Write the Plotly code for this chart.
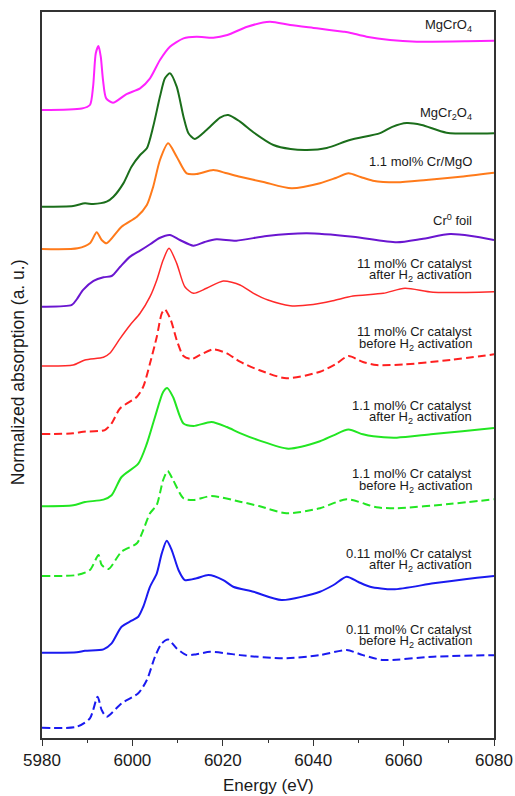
import plotly.graph_objects as go

# ---------------- data (normalized absorption) ----------------
E_MGCRO4 = [5980, 5988.8, 5990.6, 5991.3, 5991.9, 5992.5, 5993.0, 5993.5, 5994.2, 5995.7, 5998.7,
            6001.7, 6003.9, 6006.1, 6008.3, 6011.3, 6014.2, 6017.9, 6021.0, 6025.4, 6030.4, 6034.9,
            6040.8, 6046.7, 6048.1, 6051.8, 6057.0, 6062.9, 6074.0, 6080.0]
MU_MGCRO4 = [0, 0.02, 0.067, 0.311, 0.756, 0.853, 0.711, 0.4, 0.156, 0.097, 0.213,
             0.289, 0.423, 0.667, 0.844, 0.956, 0.977, 0.964, 1.0, 1.111, 1.177, 1.133,
             1.089, 1.044, 1.031, 0.977, 0.933, 0.911, 0.916, 0.924]

E_MGCR2O4 = [5980, 5986.9, 5989.5, 5991.3, 5994.3, 5995.8, 5998.0, 5999.8, 6001.7, 6003.2, 6004.6,
             6006.1, 6007.2, 6008.3, 6009.8, 6011.3, 6012.4, 6013.8, 6016.4, 6019.4, 6021.2, 6023.8,
             6027.0, 6031.2, 6035.0, 6038.6, 6043.0, 6048.1, 6054.8, 6057.5, 6060.7, 6064.0, 6069.5, 6080.0]
MU_MGCR2O4 = [0, 0.009, 0.045, 0.036, 0.067, 0.133, 0.311, 0.533, 0.689, 0.779, 1.068,
              1.468, 1.712, 1.779, 1.6, 1.2, 0.979, 0.903, 1.023, 1.189, 1.223, 1.135,
              0.983, 0.823, 0.769, 0.756, 0.783, 0.889, 0.981, 1.065, 1.115, 1.089, 0.987, 0.979]

E_CR_MGO = [5980, 5987.9, 5990.6, 5992.1, 5993.2, 5994.3, 5997.6, 6001.0, 6003.2, 6004.6, 6006.1,
            6007.9, 6009.8, 6012.0, 6014.2, 6017.9, 6020.9, 6023.8, 6029.0, 6035.2, 6041.5, 6045.0,
            6047.8, 6050.5, 6053.2, 6058.5, 6065.0, 6072.0, 6080.0]
MU_CR_MGO = [0, 0.009, 0.076, 0.223, 0.12, 0.076, 0.297, 0.431, 0.587, 0.831, 1.187,
             1.409, 1.231, 1.009, 1.0, 1.053, 1.009, 0.964, 0.893, 0.809, 0.876, 0.947,
             1.009, 0.96, 0.911, 0.889, 0.92, 0.96, 1.017]

E_CR_FOIL = [5980, 5986.6, 5987.7, 5989.1, 5991.4, 5993.6, 5995.4, 5997.3, 5999.5, 6001.7, 6004.0,
             6006.0, 6008.3, 6010.5, 6013.5, 6016.0, 6018.6, 6023.0, 6029.7, 6038.6, 6048.8, 6058.5,
             6064.0, 6070.3, 6075.0, 6080.0]
MU_CR_FOIL = [0, 0.023, 0.099, 0.223, 0.343, 0.392, 0.409, 0.533, 0.667, 0.747, 0.836,
              0.916, 0.956, 0.889, 0.813, 0.863, 0.899, 0.88, 0.943, 0.979, 0.933, 0.859,
              0.903, 0.969, 0.943, 0.889]

E_11_AFTER = [5980, 5986.9, 5989.5, 5993.6, 5995.0, 5997.3, 5999.5, 6001.7, 6003.9, 6005.4, 6006.8,
              6008.1, 6009.8, 6011.6, 6013.5, 6016.4, 6020.1, 6023.8, 6026.8, 6030.0, 6034.9, 6040.0,
              6044.4, 6048.8, 6055.5, 6060.3, 6066.5, 6080.0]
MU_11_AFTER = [0, 0.013, 0.08, 0.116, 0.169, 0.369, 0.547, 0.703, 0.924, 1.147, 1.413,
               1.569, 1.369, 1.057, 0.969, 1.036, 1.133, 1.08, 0.969, 0.88, 0.804, 0.82,
               0.871, 0.933, 0.969, 1.036, 0.983, 0.991]

E_11_BEFORE = [5980, 5986.9, 5989.1, 5993.9, 5995.4, 5997.3, 6001.0, 6002.4, 6003.9, 6005.4, 6006.5,
               6007.2, 6008.5, 6009.8, 6011.3, 6013.1, 6014.9, 6017.9, 6020.9, 6023.8, 6028.0, 6034.1,
               6041.5, 6045.0, 6047.8, 6051.0, 6054.0, 6060.0, 6070.3, 6080.0]
MU_11_BEFORE = [0, 0.009, 0.031, 0.053, 0.143, 0.343, 0.497, 0.631, 0.943, 1.297, 1.609,
                1.661, 1.52, 1.253, 1.04, 1.0, 1.053, 1.129, 1.076, 0.964, 0.853, 0.743,
                0.831, 0.933, 1.04, 0.96, 0.92, 0.927, 0.987, 1.063]

E_1_1_AFTER = [5980, 5986.9, 5989.5, 5993.6, 5995.4, 5997.6, 6001.3, 6003.2, 6005.0, 6006.8, 6007.7,
               6009.0, 6011.3, 6013.5, 6017.5, 6020.9, 6023.8, 6028.0, 6034.5, 6041.5, 6044.5, 6047.8,
               6051.0, 6053.3, 6058.5, 6066.0, 6073.0, 6080.0]
MU_1_1_AFTER = [0, 0.013, 0.057, 0.089, 0.147, 0.391, 0.569, 0.836, 1.191, 1.524, 1.577,
                1.457, 1.103, 1.071, 1.124, 1.057, 0.977, 0.88, 0.769, 0.867, 0.947, 1.023,
                0.96, 0.933, 0.916, 0.96, 1.0, 1.044]

E_1_1_BEFORE = [5980, 5987.7, 5990.6, 5992.5, 5993.2, 5994.7, 5997.6, 6001.0, 6002.4, 6003.9, 6005.4,
                6006.8, 6007.8, 6009.0, 6011.3, 6013.5, 6017.5, 6023.8, 6028.0, 6034.1, 6041.5, 6047.4,
                6054.0, 6058.5, 6070.0, 6080.0]
MU_1_1_BEFORE = [0, 0.013, 0.08, 0.28, 0.147, 0.093, 0.324, 0.436, 0.613, 0.836, 0.95,
                 1.28, 1.4, 1.28, 1.036, 1.013, 1.067, 0.991, 0.933, 0.836, 0.903, 1.023,
                 0.916, 0.903, 0.96, 1.023]

E_011_AFTER = [5980, 5987.7, 5989.5, 5993.6, 5995.4, 5997.6, 5999.8, 6001.3, 6002.4, 6003.9, 6005.4,
               6006.5, 6007.6, 6008.7, 6010.2, 6011.6, 6014.2, 6016.8, 6020.1, 6022.3, 6026.8, 6033.0,
               6041.5, 6044.5, 6047.4, 6050.0, 6052.6, 6057.7, 6066.6, 6074.0, 6080.0]
MU_011_AFTER = [0, 0.005, 0.027, 0.045, 0.125, 0.347, 0.427, 0.48, 0.613, 0.88, 1.059,
                1.325, 1.493, 1.369, 1.103, 0.969, 0.992, 1.036, 0.969, 0.88, 0.813, 0.703,
                0.813, 0.903, 1.013, 0.943, 0.88, 0.845, 0.925, 0.983, 1.023]

E_011_BEFORE = [5980, 5987.7, 5990.6, 5992.3, 5993.2, 5994.3, 5997.6, 6001.3, 6003.2, 6005.0, 6006.5,
                6007.9, 6009.8, 6012.0, 6014.2, 6017.2, 6020.9, 6023.8, 6033.4, 6041.5, 6047.4, 6051.0,
                6055.5, 6066.6, 6080.0]
MU_011_BEFORE = [0, 0.013, 0.125, 0.413, 0.236, 0.147, 0.325, 0.459, 0.636, 0.947, 1.125,
                 1.177, 1.057, 0.968, 0.981, 1.012, 0.991, 0.968, 0.925, 0.968, 1.035, 0.968,
                 0.903, 0.947, 0.968]

# vertical stacking offsets of each spectrum (same order as the series below)
OFFSETS = [8.373, 7.084, 6.52, 5.751, 4.96, 4.053, 3.089, 2.16, 1.137, 0.137]

LABELS = [
    ["MgCrO<sub>4</sub>"],
    ["MgCr<sub>2</sub>O<sub>4</sub>"],
    ["1.1 mol% Cr/MgO"],
    ["Cr<sup>0</sup> foil"],
    ["11 mol% Cr catalyst", "after H<sub>2</sub> activation"],
    ["11 mol% Cr catalyst", "before H<sub>2</sub> activation"],
    ["1.1 mol% Cr catalyst", "after H<sub>2</sub> activation"],
    ["1.1 mol% Cr catalyst", "before H<sub>2</sub> activation"],
    ["0.11 mol% Cr catalyst", "after H<sub>2</sub> activation"],
    ["0.11 mol% Cr catalyst", "before H<sub>2</sub> activation"],
]

X_TICKS = [5980, 6000, 6020, 6040, 6060, 6080]

# ---------------- styling ----------------
SERIES_E = [E_MGCRO4, E_MGCR2O4, E_CR_MGO, E_CR_FOIL, E_11_AFTER, E_11_BEFORE,
            E_1_1_AFTER, E_1_1_BEFORE, E_011_AFTER, E_011_BEFORE]
SERIES_MU = [MU_MGCRO4, MU_MGCR2O4, MU_CR_MGO, MU_CR_FOIL, MU_11_AFTER, MU_11_BEFORE,
             MU_1_1_AFTER, MU_1_1_BEFORE, MU_011_AFTER, MU_011_BEFORE]
COLORS = ["#ff22ff", "#1b6e1b", "#ff7a1a", "#6a16d0", "#ff2a2a", "#ff2020",
          "#22e622", "#22e622", "#1a1af0", "#1a1af0"]
DASHES = ["solid", "solid", "solid", "solid", "solid", "8px,4px",
          "solid", "8px,4px", "solid", "8px,4px"]
WIDTHS = [2, 2, 2, 2, 1.5, 2, 2, 2, 2, 2]

# label y positions (data units) for each line of text
LABEL_Y = [[9.5], [8.33], [7.685], [6.91], [6.33, 6.165], [5.415, 5.25],
           [4.44, 4.275], [3.53, 3.35], [2.465, 2.3], [1.45, 1.285]]
LABEL_X = 6075.6

FONT = "Arial, 'Liberation Sans', sans-serif"

fig = go.Figure()
for e, mu, off, col, dash, w in zip(SERIES_E, SERIES_MU, OFFSETS, COLORS, DASHES, WIDTHS):
    fig.add_trace(go.Scatter(
        x=e, y=[m + off for m in mu], mode="lines",
        line=dict(color=col, width=w, dash=dash, shape="spline", smoothing=0.7),
        showlegend=False, hoverinfo="skip"))

annotations = []
for lines, ys in zip(LABELS, LABEL_Y):
    for txt, yy in zip(lines, ys):
        annotations.append(dict(x=LABEL_X, y=yy, xref="x", yref="y", text=txt,
                                showarrow=False, xanchor="right", yanchor="middle",
                                font=dict(family=FONT, size=13, color="#1a1a1a")))

annotations.append(dict(x=-0.053, y=0.504, xref="paper", yref="paper",
                        text="Normalized absorption (a. u.)", textangle=-90,
                        showarrow=False, xanchor="center", yanchor="middle",
                        font=dict(family=FONT, size=17.5, color="#1a1a1a")))
annotations.append(dict(x=0.5, y=-0.0655, xref="paper", yref="paper",
                        text="Energy (eV)", showarrow=False,
                        xanchor="center", yanchor="middle",
                        font=dict(family=FONT, size=17, color="#1a1a1a")))

fig.update_layout(
    width=515, height=796,
    margin=dict(l=42, r=21, t=12, b=58, autoexpand=False),
    paper_bgcolor="white", plot_bgcolor="white",
    font=dict(family=FONT, color="#1a1a1a"),
    annotations=annotations,
    xaxis=dict(range=[5980, 6080], tickvals=X_TICKS, ticktext=[str(t) for t in X_TICKS],
               automargin=False,
               ticks="outside", ticklen=6, tickwidth=1.3, tickcolor="#333",
               minor=dict(dtick=10, tick0=5980, ticks="outside", ticklen=3, tickwidth=1.3, tickcolor="#333"),
               showline=True, linecolor="#333", linewidth=1.5, mirror=True,
               showgrid=False, zeroline=False,
               tickfont=dict(family=FONT, size=17, color="#1a1a1a")),
    yaxis=dict(range=[0, 9.68], showticklabels=False, ticks="", automargin=False,
               showline=True, linecolor="#333", linewidth=1.5, mirror=True,
               showgrid=False, zeroline=False),
)

fig.write_html("out.html")
